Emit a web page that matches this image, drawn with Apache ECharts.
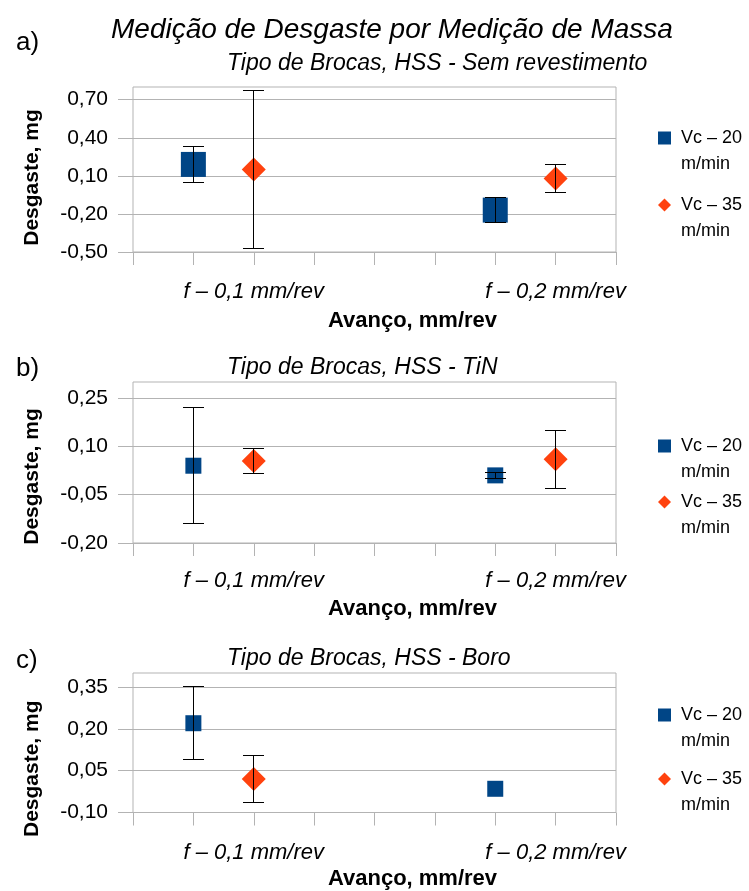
<!DOCTYPE html>
<html>
<head>
<meta charset="utf-8">
<script src="https://cdn.jsdelivr.net/npm/echarts@6/dist/echarts.min.js"></script>
<style>
html,body{margin:0;padding:0;background:#fff;}
#chart{width:749px;height:891px;}
</style>
</head>
<body>
<div id="chart"></div>
<script>
// ---- data ----
const categories = ['f – 0,1 mm/rev', 'f – 0,2 mm/rev'];
const catX = [2, 7];          // x-axis value where each category label sits
const vc20X = [1, 6];         // x-axis values of Vc 20 points
const vc35X = [2, 7];         // x-axis values of Vc 35 points
const seriesNames = ['Vc – 20\nm/min', 'Vc – 35\nm/min'];

const panelTitles = ['Tipo de Brocas, HSS - Sem revestimento', 'Tipo de Brocas, HSS - TiN', 'Tipo de Brocas, HSS - Boro'];
const panelLetters = ['a)', 'b)', 'c)'];
const mainTitle = 'Medição de Desgaste por Medição de Massa';

// panel a
const vc20A = [0.19, -0.17];
const vc20ErrA = [0.14, 0.10];
const vc35A = [0.15, 0.08];
const vc35ErrA = [0.62, 0.11];
const yTicksA = [-0.50, -0.20, 0.10, 0.40, 0.70];
const yRangeA = [-0.50, 0.80];
// panel b
const vc20B = [0.04, 0.01];
const vc20ErrB = [0.18, 0.01];
const vc35B = [0.055, 0.06];
const vc35ErrB = [0.04, 0.09];
const yTicksB = [-0.20, -0.05, 0.10, 0.25];
const yRangeB = [-0.20, 0.30];
// panel c
const vc20C = [0.22, -0.015];
const vc20ErrC = [0.13, null];
const vc35C = [0.02, null];
const vc35ErrC = [0.085, null];
const yTicksC = [-0.10, 0.05, 0.20, 0.35];
const yRangeC = [-0.10, 0.40];

// ---- styling / layout ----
const FONT = '"Liberation Sans", Arial, sans-serif';
const BLUE = '#004586';
const ORANGE = '#ff420e';
const GRID = '#b3b3b3';

const panels = [
  {vc20: vc20A, e20: vc20ErrA, vc35: vc35A, e35: vc35ErrA, ticks: yTicksA, range: yRangeA,
   grid: {top: 87, height: 165}, sq: 25, lab: 29, nameGap: 58, legendTop: 99, legendGap: -11,
   subY: 47, letY: 25, ynameShift: 8},
  {vc20: vc20B, e20: vc20ErrB, vc35: vc35B, e35: vc35ErrB, ticks: yTicksB, range: yRangeB,
   grid: {top: 382, height: 161}, sq: 16, lab: 27, nameGap: 55, legendTop: 407, legendGap: -22,
   subY: 351, letY: 351, ynameShift: 14},
  {vc20: vc20C, e20: vc20ErrC, vc35: vc35C, e35: vc35ErrC, ticks: yTicksC, range: yRangeC,
   grid: {top: 673, height: 139.5}, sq: 16, lab: 29, nameGap: 55, legendTop: 676, legendGap: -14,
   subY: 642, letY: 643, ynameShift: 26}
];

function fmt(v) { return v.toFixed(2).replace('.', ','); }

function snap(v) { return Math.round(v - 0.5) + 0.5; }

function errRender(params, api) {
  const x = api.value(0), y = api.value(1), e = api.value(2);
  const top = api.coord([x, y + e]);
  const bot = api.coord([x, y - e]);
  const cx = snap(top[0]), ty = snap(top[1]), by = snap(bot[1]);
  const hw = 10.5;
  const st = {stroke: '#000', lineWidth: 1};
  return {
    type: 'group',
    children: [
      {type: 'line', shape: {x1: cx, y1: ty, x2: cx, y2: by}, style: st},
      {type: 'line', shape: {x1: cx - hw, y1: ty, x2: cx + hw, y2: ty}, style: st},
      {type: 'line', shape: {x1: cx - hw, y1: by, x2: cx + hw, y2: by}, style: st}
    ]
  };
}

const grids = [], xAxes = [], yAxes = [], series = [], legends = [];
const titles = [{
  text: mainTitle, left: 106, top: 11,
  textStyle: {fontFamily: FONT, fontSize: 28, fontStyle: 'italic', fontWeight: 'normal', color: '#000'}
}];

panels.forEach((p, i) => {
  grids.push({left: 133, right: 133, top: p.grid.top, height: p.grid.height,
    show: true, borderColor: GRID, borderWidth: 1, backgroundColor: 'transparent'});
  xAxes.push({
    type: 'value', gridIndex: i, min: 0, max: 8, interval: 1,
    name: 'Avanço, mm/rev', nameLocation: 'middle', nameGap: p.nameGap,
    nameTextStyle: {fontFamily: FONT, fontSize: 22, fontWeight: 'bold', color: '#000', padding: [0, 0, 0, 76]},
    axisLine: {show: false, onZero: false},
    axisTick: {show: true, length: 13, lineStyle: {color: GRID}},
    splitLine: {show: false},
    axisLabel: {customValues: catX, margin: p.lab, fontFamily: FONT, fontSize: 22, fontStyle: 'italic', color: '#000',
      formatter: v => categories[catX.indexOf(v)] || ''}
  });
  yAxes.push({
    type: 'value', gridIndex: i, min: p.range[0], max: p.range[1],
    name: 'Desgaste, mg', nameLocation: 'middle', nameGap: 90, nameRotate: 90,
    nameTextStyle: {fontFamily: FONT, fontSize: 21, fontWeight: 'bold', color: '#000', padding: [0, p.ynameShift * 2, 0, 0]},
    axisLine: {show: false, onZero: false},
    axisTick: {show: true, length: 15, customValues: p.ticks, lineStyle: {color: GRID}},
    splitLine: {show: true, lineStyle: {color: GRID, width: 1}},
    axisLabel: {customValues: p.ticks, margin: 25, fontFamily: FONT, fontSize: 21, color: '#000', formatter: fmt}
  });
  const d20 = p.vc20.map((v, k) => v == null ? null : [vc20X[k], v]).filter(Boolean);
  const d35 = p.vc35.map((v, k) => v == null ? null : [vc35X[k], v]).filter(Boolean);
  series.push({
    name: seriesNames[0], type: 'scatter', xAxisIndex: i, yAxisIndex: i,
    symbol: 'rect', symbolSize: p.sq, itemStyle: {color: BLUE, opacity: 1}, data: d20, z: 2
  });
  series.push({
    name: seriesNames[1], type: 'scatter', xAxisIndex: i, yAxisIndex: i,
    symbol: 'diamond', symbolSize: 24, itemStyle: {color: ORANGE, opacity: 1}, data: d35, z: 2
  });
  const e20 = p.vc20.map((v, k) => (v == null || p.e20[k] == null) ? null : [vc20X[k], v, p.e20[k]]).filter(Boolean);
  const e35 = p.vc35.map((v, k) => (v == null || p.e35[k] == null) ? null : [vc35X[k], v, p.e35[k]]).filter(Boolean);
  series.push({type: 'custom', xAxisIndex: i, yAxisIndex: i, renderItem: errRender, data: e20.concat(e35), z: 5, silent: true});

  legends.push({
    orient: 'vertical', left: 658, top: p.legendTop, padding: 0, itemGap: p.legendGap,
    itemWidth: 13, itemHeight: 13, selectedMode: false,
    formatter: name => '\n' + name,
    data: [{name: seriesNames[0], icon: 'rect'}, {name: seriesNames[1], icon: 'diamond'}],
    textStyle: {fontFamily: FONT, fontSize: 18, lineHeight: 26, color: '#000', padding: [0, 0, 0, 5]}
  });
  titles.push({
    text: panelTitles[i], left: 222, top: p.subY,
    textStyle: {fontFamily: FONT, fontSize: 23, fontStyle: 'italic', fontWeight: 'normal', color: '#000'}
  });
  titles.push({
    text: panelLetters[i], left: 11, top: p.letY,
    textStyle: {fontFamily: FONT, fontSize: 26, fontWeight: 'normal', color: '#000'}
  });
});

const chart = echarts.init(document.getElementById('chart'), null, {renderer: 'canvas'});
chart.setOption({
  animation: false,
  backgroundColor: '#fff',
  title: titles,
  legend: legends,
  grid: grids,
  xAxis: xAxes,
  yAxis: yAxes,
  series: series
});
</script>
</body>
</html>
